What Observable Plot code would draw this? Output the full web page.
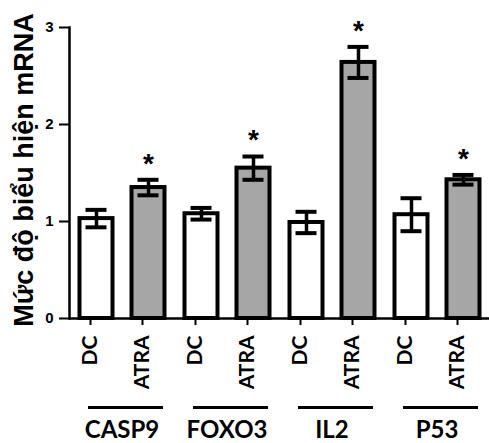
<!DOCTYPE html>
<html><head><meta charset="utf-8">
<script src="https://cdn.jsdelivr.net/npm/d3@7"></script>
<script src="https://cdn.jsdelivr.net/npm/@observablehq/plot@0.6"></script>
<style>body{margin:0;background:#fff}</style>
</head><body><div id="chart"></div>
<script>
const genes = ["CASP9", "FOXO3", "IL2", "P53"];
const groups = ["DC", "ATRA"];
const dcMean = [1.03, 1.08, 0.99, 1.07];
const dcErr = [0.09, 0.06, 0.11, 0.17];
const atraMean = [1.35, 1.55, 2.64, 1.43];
const atraErr = [0.08, 0.12, 0.16, 0.05];
const atraSignificant = [true, true, true, true];
const yTicks = [0, 1, 2, 3];
const yLabel = "Mức độ biểu hiện mRNA";

const rows = genes.flatMap((g, i) => [
  {gene: g, group: "DC", mean: dcMean[i], err: dcErr[i], sig: false},
  {gene: g, group: "ATRA", mean: atraMean[i], err: atraErr[i], sig: atraSignificant[i]}
]);

const chart = Plot.plot({
  width: 489, height: 443,
  marginLeft: 68, marginRight: 0, marginTop: 27, marginBottom: 125,
  style: {background: "white", color: "#000", fontFamily: "'Liberation Sans', Arial, sans-serif"},
  fx: {domain: genes, padding: 0},
  x: {domain: groups, padding: 0},
  y: {domain: [0, 3]},
  color: {domain: groups, range: ["#ffffff", "#a6a6a6"]},
  marks: [
    Plot.barY(rows, {fx: "gene", x: "group", y: "mean", fill: "group", stroke: "#000", strokeWidth: 4, insetLeft: 9.5, insetRight: 9.5}),
    Plot.ruleX(rows, {fx: "gene", x: "group", y1: d => d.mean - d.err, y2: d => d.mean + d.err, stroke: "#000", strokeWidth: 3.5}),
    Plot.tickY(rows, {fx: "gene", x: "group", y: d => d.mean + d.err, stroke: "#000", strokeWidth: 4, insetLeft: 15.5, insetRight: 15.5}),
    Plot.tickY(rows, {fx: "gene", x: "group", y: d => d.mean - d.err, stroke: "#000", strokeWidth: 4, insetLeft: 15.5, insetRight: 15.5}),
    Plot.text(rows.filter(d => d.sig), {fx: "gene", x: "group", y: d => d.mean + d.err, text: () => "*", dy: -16, fontSize: 28, fontWeight: "bold", fill: "#000"}),
    Plot.ruleY([0], {stroke: "#000", strokeWidth: 2.5}),
    Plot.frame({anchor: "left", facetAnchor: "left", stroke: "#000", strokeWidth: 2.5}),
    Plot.axisY({ticks: yTicks, tickFormat: d => String(d), tickSize: 10, tickPadding: 6, fontSize: 15, fontWeight: "bold", label: null, strokeWidth: 2}),
    Plot.text([yLabel], {frameAnchor: "left", textAnchor: "middle", rotate: -90, dx: -45, dy: -3, fontSize: 27, fontWeight: "bold", facetAnchor: "left", fill: "#000"}),
    Plot.axisX({tickSize: 7, tickPadding: 10, tickRotate: -90, dx: -6, fontSize: 21, fontWeight: "bold", fontFamily: "Lato", label: null, strokeWidth: 2}),
    Plot.ruleY([0], {dy: 89, insetLeft: 19, insetRight: 11, stroke: "#000", strokeWidth: 3}),
    Plot.axisFx({anchor: "bottom", tickSize: 0, tickPadding: 102, fontSize: 24, fontWeight: "bold", fontFamily: "Lato", label: null})
  ]
});
document.getElementById("chart").append(chart);
</script>
</body></html>
